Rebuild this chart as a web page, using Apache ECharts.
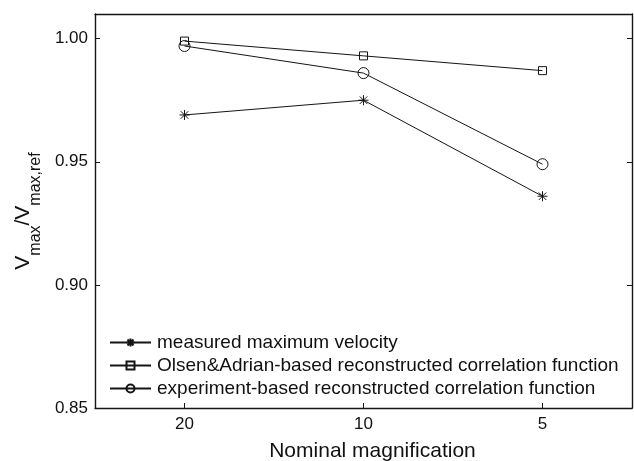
<!DOCTYPE html>
<html>
<head>
<meta charset="utf-8">
<script src="https://cdn.jsdelivr.net/npm/echarts@6/dist/echarts.min.js"></script>
<style>
html,body{margin:0;padding:0;background:#fff;}
#chart{width:634px;height:461px;}
</style>
</head>
<body>
<div id="chart"></div>
<script>
const categories = ['20', '10', '5'];
const measured = [0.969, 0.975, 0.936];
const olsenAdrian = [0.999, 0.993, 0.987];
const experiment = [0.997, 0.986, 0.949];
const seriesNames = [
  'measured maximum velocity',
  'Olsen&Adrian-based reconstructed correlation function',
  'experiment-based reconstructed correlation function'
];
const yMin = 0.85, yMax = 1.01, yStep = 0.05;

const FONT = 'Liberation Sans, Arial, Helvetica, sans-serif';
const INK = '#151515';
const star = 'path://M0,-10L0,10M-10,0L10,0M-7.5,-7.5L7.5,7.5M-7.5,7.5L7.5,-7.5';

const chart = echarts.init(document.getElementById('chart'), null, {renderer: 'canvas'});

function lineSeries(name, data, symbol, size) {
  return {
    name: name,
    type: 'line',
    data: data,
    symbol: symbol,
    symbolSize: size,
    showAllSymbol: true,
    lineStyle: {color: INK, width: 1},
    itemStyle: {color: 'rgba(0,0,0,0)', borderColor: INK, borderWidth: 1},
    emphasis: {disabled: true},
    z: 3
  };
}

chart.setOption({
  animation: false,
  backgroundColor: '#fff',
  textStyle: {fontFamily: FONT},
  grid: {left: 95, right: 2, top: 14, bottom: 53, containLabel: false, outerBoundsMode: 'none'},
  legend: {
    orient: 'vertical',
    left: 109,
    top: 333,
    padding: 0,
    itemGap: 4,
    itemWidth: 41,
    itemHeight: 10,
    data: seriesNames,
    textStyle: {fontFamily: FONT, fontSize: 19, color: '#111', padding: [0, 0, 0, 1]},
    selectedMode: false
  },
  xAxis: [{
    type: 'category',
    data: categories,
    boundaryGap: true,
    position: 'bottom',
    name: 'Nominal magnification',
    nameLocation: 'middle',
    nameGap: 33,
    nameMoveOverlap: false,
    nameTextStyle: {fontFamily: FONT, fontSize: 21, color: '#111', padding: [0, 0, 0, 18]},
    axisLine: {show: true, lineStyle: {color: INK, width: 1.4}},
    axisTick: {show: true, inside: true, alignWithLabel: true, length: 5, lineStyle: {color: INK, width: 1}},
    axisLabel: {fontFamily: FONT, fontSize: 17, color: '#111', margin: 8},
    splitLine: {show: false}
  }, {
    type: 'category',
    data: categories,
    boundaryGap: true,
    position: 'top',
    axisLine: {show: true, lineStyle: {color: INK, width: 1.4}},
    axisTick: {show: false},
    axisLabel: {show: false},
    splitLine: {show: false}
  }],
  yAxis: [{
    type: 'value',
    min: yMin,
    max: yMax,
    interval: yStep,
    position: 'left',
    name: '{v|V}{s|max}{v|/V}{s|max,ref}',
    nameLocation: 'middle',
    nameGap: 55,
    nameMoveOverlap: false,
    nameTextStyle: {
      fontFamily: FONT,
      color: '#111',
      rich: {
        v: {fontFamily: FONT, fontSize: 21, lineHeight: 21, padding: [0, 0, 13, 0], color: '#111'},
        s: {fontFamily: FONT, fontSize: 16, lineHeight: 16, padding: [13, 0, 0, 0], color: '#111'}
      }
    },
    axisLine: {show: true, lineStyle: {color: INK, width: 1.4}},
    axisTick: {show: true, inside: true, length: 5, lineStyle: {color: INK, width: 1}},
    axisLabel: {
      fontFamily: FONT, fontSize: 17, color: '#111', margin: 7,
      showMaxLabel: false,
      formatter: v => v.toFixed(2)
    },
    splitLine: {show: false}
  }, {
    type: 'value',
    min: yMin,
    max: yMax,
    interval: yStep,
    position: 'right',
    axisLine: {show: true, lineStyle: {color: INK, width: 1.4}},
    axisTick: {show: true, inside: true, length: 5, lineStyle: {color: INK, width: 1}},
    axisLabel: {show: false},
    splitLine: {show: false}
  }],
  series: [
    lineSeries(seriesNames[0], measured, star, 10),
    lineSeries(seriesNames[1], olsenAdrian, 'rect', 8),
    lineSeries(seriesNames[2], experiment, 'circle', 11)
  ]
});
</script>
</body>
</html>
